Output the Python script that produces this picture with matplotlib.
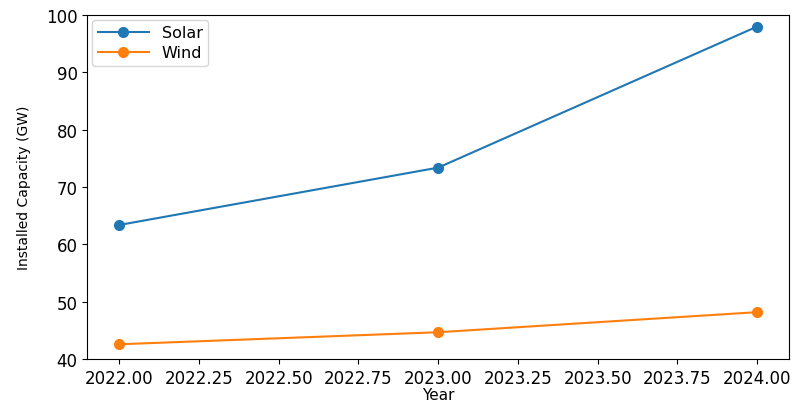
import matplotlib.pyplot as plt

years = [2022, 2023, 2024]
solar = [63.4, 73.4, 98.0]
wind = [42.6, 44.7, 48.2]

fig = plt.figure(figsize=(7.93, 4.02), dpi=100)
ax = fig.add_axes([0.110, 0.104, 0.885, 0.856])

ax.plot(years, solar, marker='o', markersize=7, label='Solar', color='#1f77b4')
ax.plot(years, wind, marker='o', markersize=7, label='Wind', color='#ff7f0e')

ax.set_ylim(40, 100)
ax.set_xticks([2022.0, 2022.25, 2022.5, 2022.75, 2023.0, 2023.25, 2023.5, 2023.75, 2024.0])
ax.set_xticklabels([f'{t:.2f}' for t in ax.get_xticks()])
ax.tick_params(axis='both', labelsize=12)
ax.set_xlabel('Year', fontsize=11, labelpad=0)
ax.set_ylabel('Installed Capacity (GW)', fontsize=10, labelpad=11)
ax.legend(loc='upper left', fontsize=11.5, handlelength=3.2, borderaxespad=0.3,
          labelspacing=0.3, borderpad=0.35)

fig.savefig('out.png', dpi=100)
